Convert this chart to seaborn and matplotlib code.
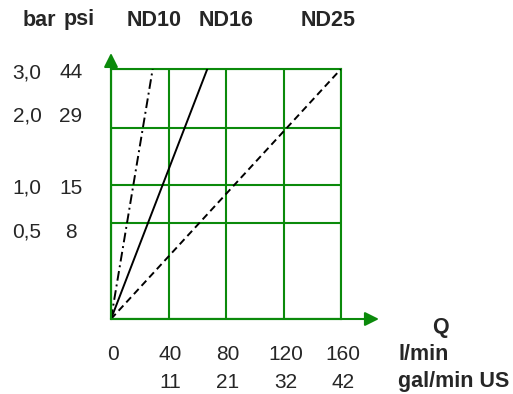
import matplotlib
matplotlib.use("Agg")
import matplotlib.pyplot as plt
import numpy as np
import pandas as pd
import seaborn as sns

# data
q_ticks = [0, 40, 80, 120, 160]            # l/min
gal_ticks = ["11", "21", "32", "42"]       # gal/min US under 40..160
bar_ticks = [0.5, 1.0, 2.0, 3.0]
bar_labels = ["0,5", "1,0", "2,0", "3,0"]
psi_labels = ["8", "15", "29", "44"]

# the pressure axis is not linear on the original sheet
scale_bar = [0.0, 0.5, 1.0, 2.0, 3.0]
scale_pos = [0.0, 0.384, 0.536, 0.764, 1.0]

nd10_q = [0, 29]
nd16_q = [0, 67]
nd25_q = [0, 160]
line_bar = [0.0, 3.0]

green = "#0b8a0b"

sns.set_style("white")
plt.rcParams["font.family"] = ["Liberation Sans", "DejaVu Sans"]

df = pd.concat([
    pd.DataFrame({"Q": nd10_q, "bar": line_bar, "ND": "ND10"}),
    pd.DataFrame({"Q": nd16_q, "bar": line_bar, "ND": "ND16"}),
    pd.DataFrame({"Q": nd25_q, "bar": line_bar, "ND": "ND25"}),
])

W, H = 513, 394
fig = plt.figure(figsize=(W / 100, H / 100), dpi=100)
ax = fig.add_axes([111 / W, 75 / H, 230 / W, 250 / H])


def fwd(v):
    return np.interp(v, scale_bar, scale_pos)


def inv(v):
    return np.interp(v, scale_pos, scale_bar)


ax.set_yscale("function", functions=(fwd, inv))
ax.set_xlim(0, 160)
ax.set_ylim(0, 3.0)
ax.set_xticks(q_ticks)
ax.set_yticks(scale_bar)
ax.tick_params(length=0, labelbottom=False, labelleft=False)
ax.grid(True, color=green, lw=1.5)
for s in ax.spines.values():
    s.set_color(green)
    s.set_linewidth(1.5)

sns.lineplot(data=df, x="Q", y="bar", style="ND", color="black", lw=1.4,
             dashes={"ND10": (5, 2, 1, 2), "ND16": "", "ND25": (3.6, 2.2)},
             estimator=None, sort=False, legend=False, ax=ax, zorder=3)
ax.set_xlabel("")
ax.set_ylabel("")

# axis arrows
astyle = "-|>,head_length=0.6,head_width=0.3"
ax.annotate("", xy=(1.165, 0), xytext=(0, 0), xycoords="axes fraction",
            arrowprops=dict(arrowstyle=astyle, color=green, lw=1.5,
                            mutation_scale=14, shrinkA=0, shrinkB=0),
            annotation_clip=False)
ax.annotate("", xy=(0, 1.064), xytext=(0, 0), xycoords="axes fraction",
            arrowprops=dict(arrowstyle=astyle, color=green, lw=1.5,
                            mutation_scale=14, shrinkA=0, shrinkB=0),
            annotation_clip=False)

fs = 15
fsb = 15.5

# pressure labels (nudges in pixels, the sheet is not quite aligned)
nudge = [9, 3, -12, 4]
for b, lb, lp, n in zip(bar_ticks, bar_labels, psi_labels, nudge):
    ax.annotate(lb, xy=(-0.365, b), xycoords=("axes fraction", "data"),
                xytext=(0, -n), textcoords="offset pixels",
                ha="center", va="center", fontsize=fs)
    ax.annotate(lp, xy=(-0.174, b), xycoords=("axes fraction", "data"),
                xytext=(0, -n), textcoords="offset pixels",
                ha="center", va="center", fontsize=fs)

# flow labels
for q in q_ticks:
    ax.annotate(str(q), xy=(q, 0), xycoords=("data", "axes fraction"),
                xytext=(2, -35), textcoords="offset pixels",
                ha="center", va="center", fontsize=fs)
for q, g in zip(q_ticks[1:], gal_ticks):
    ax.annotate(g, xy=(q, 0), xycoords=("data", "axes fraction"),
                xytext=(2, -63), textcoords="offset pixels",
                ha="center", va="center", fontsize=fs)

def px(x, y):
    return x / W, 1 - y / H

for t, x in [("bar", 39), ("psi", 79), ("ND10", 154), ("ND16", 226), ("ND25", 328)]:
    fig.text(*px(x, 20), t, ha="center", va="center", fontsize=fsb, fontweight="bold")

fig.text(*px(440, 327), "Q", ha="center", va="center", fontsize=fsb, fontweight="bold")
fig.text(*px(398, 354), "l/min", ha="left", va="center", fontsize=fsb, fontweight="bold")
fig.text(*px(398, 382), "gal/min US", ha="left", va="center", fontsize=fsb, fontweight="bold")

fig.savefig("out.png", dpi=100)
